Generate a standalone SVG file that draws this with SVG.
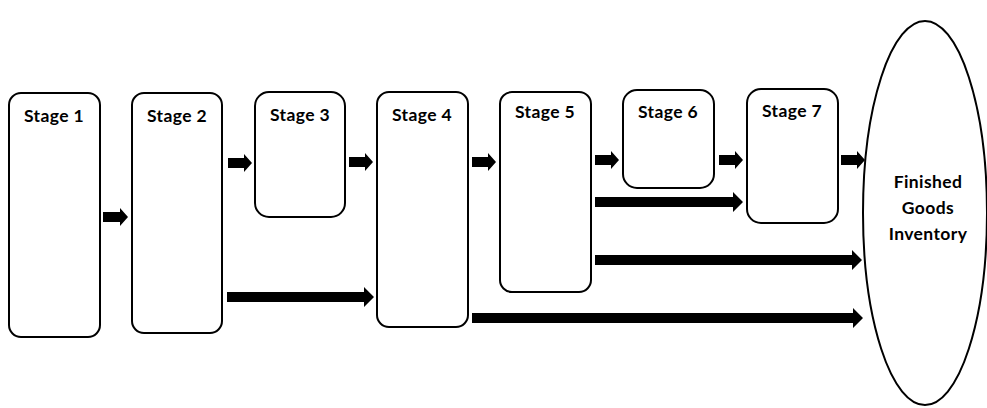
<svg xmlns="http://www.w3.org/2000/svg" width="987" height="408" viewBox="0 0 987 408">
  <style>
    .box { fill: #ffffff; stroke: #000000; stroke-width: 2; }
    .lbl { font-family: Lato, "Open Sans", "Liberation Sans", sans-serif; font-weight: bold; font-size: 17.5px; letter-spacing: 0.4px; fill: #000000; text-anchor: middle; }
    .arr { fill: #000000; stroke: none; }
  </style>

  <!-- block arrows between stages -->
  <g id="connectors">
    <!-- short step arrows -->
    <polygon class="arr" points="103,212 120,212 120,208 128,217 120,226 120,222 103,222"/>
    <polygon class="arr" points="228,158 244,158 244,154 252,163 244,172 244,168 228,168"/>
    <polygon class="arr" points="349,157 365,157 365,153 373,162 365,171 365,167 349,167"/>
    <polygon class="arr" points="472,157 488,157 488,153 496,162 488,171 488,167 472,167"/>
    <polygon class="arr" points="595,155 611,155 611,151 619,160 611,169 611,165 595,165"/>
    <polygon class="arr" points="719,155 735,155 735,151 743,160 735,169 735,165 719,165"/>
    <polygon class="arr" points="841,155 857,155 857,151 865,160 857,169 857,165 841,165"/>
    <!-- long bypass arrows -->
    <polygon class="arr" points="227,292 364,292 364,287 374,297 364,307 364,302 227,302"/>
    <polygon class="arr" points="595,197 733,197 733,192 743,202 733,212 733,207 595,207"/>
    <polygon class="arr" points="595,255 852,255 852,250 862,260 852,270 852,265 595,265"/>
    <polygon class="arr" points="472,313 853,313 853,308 863,318 853,328 853,323 472,323"/>
  </g>

  <g id="stage1">
    <rect class="box" x="9" y="93" width="91" height="244" rx="12"/>
    <text class="lbl" x="54" y="122">Stage 1</text>
  </g>
  <g id="stage2">
    <rect class="box" x="132" y="93" width="90" height="240" rx="12"/>
    <text class="lbl" x="177" y="122">Stage 2</text>
  </g>
  <g id="stage3">
    <rect class="box" x="255" y="92" width="90" height="125" rx="14"/>
    <text class="lbl" x="300" y="121">Stage 3</text>
  </g>
  <g id="stage4">
    <rect class="box" x="377" y="92" width="91" height="235" rx="12"/>
    <text class="lbl" x="422" y="121">Stage 4</text>
  </g>
  <g id="stage5">
    <rect class="box" x="500" y="92" width="91" height="200" rx="12"/>
    <text class="lbl" x="545" y="118">Stage 5</text>
  </g>
  <g id="stage6">
    <rect class="box" x="623" y="90" width="91" height="98" rx="14"/>
    <text class="lbl" x="668" y="118">Stage 6</text>
  </g>
  <g id="stage7">
    <rect class="box" x="747" y="89" width="91" height="134" rx="14"/>
    <text class="lbl" x="792" y="117">Stage 7</text>
  </g>
  <g id="inventory">
    <ellipse class="box" cx="925" cy="213" rx="62" ry="192"/>
    <text class="lbl" x="928" y="188">Finished</text>
    <text class="lbl" x="928" y="214">Goods</text>
    <text class="lbl" x="928" y="240">Inventory</text>
  </g>
</svg>
